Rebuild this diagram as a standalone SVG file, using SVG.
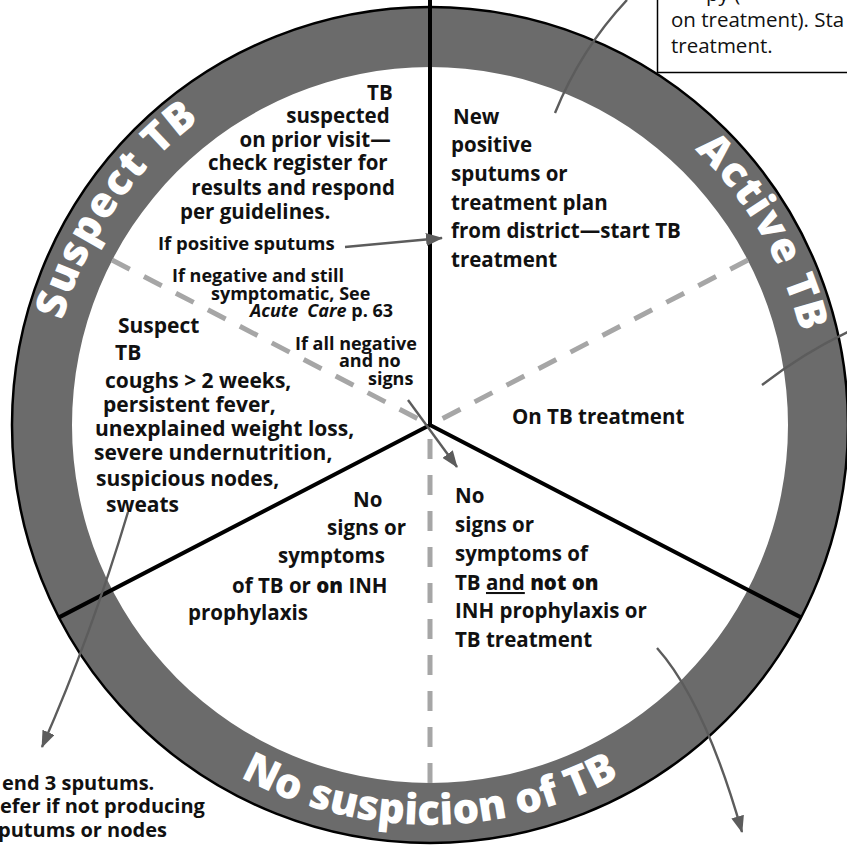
<svg xmlns="http://www.w3.org/2000/svg" width="847" height="847" viewBox="0 0 847 847">
  <defs>
    <style>
      text { font-family: "Open Sans", "Noto Sans", "DejaVu Sans", sans-serif; font-weight: 700; fill: #111; }
      .s18 { font-size: 18px; }
      .s185 { font-size: 18.5px; }
      .s20 { font-size: 20px; }
      .s205 { font-size: 20.5px; }
      .s21 { font-size: 21px; }
      .reg { font-weight: 400; }
      .heavy { font-weight: 800; }
      .ital { font-style: italic; }
      .ring-label { font-size: 42px; font-weight: 800; fill: #fff; letter-spacing: 1.5px; }
      .ring-label-low { font-size: 42px; font-weight: 800; fill: #fff; letter-spacing: 0px; }
      .band { fill: #6b6b6b; fill-rule: evenodd; }
      .rim { fill: none; stroke: #000; stroke-width: 2.5; }
      .divider { fill: none; stroke: #000; stroke-width: 4; }
      .dash { fill: none; stroke: #a6a6a6; stroke-width: 5; stroke-dasharray: 20 16; }
      .conn { fill: none; stroke: #5c5c5c; stroke-width: 2.4; }
      .arrow { marker-end: url(#head); }
      .note { fill: #fff; stroke: #000; stroke-width: 1.5; }
    </style>
    <marker id="head" viewBox="0 0 17 13" refX="16" refY="6.5" markerWidth="17" markerHeight="13" markerUnits="userSpaceOnUse" orient="auto">
      <path d="M0,0 L17,6.5 L0,13 Z" fill="#5c5c5c"/>
    </marker>
    <!-- baselines for the curved band titles -->
    <path id="arc-suspect" d="M54.4,494.6 A382,382 0 0 1 360.4,49.4"/>
    <path id="arc-active" d="M528.9,56 A382,382 0 0 1 799,523.9"/>
    <path id="arc-none" d="M147.2,707.8 A400,400 0 0 0 712.8,707.8"/>
  </defs>

  <rect width="847" height="847" fill="#fff"/>

  <!-- outer band and sector dividers -->
  <g id="wheel">
    <path class="band" d="M12,425 A418,418 0 1 0 848,425 A418,418 0 1 0 12,425 Z M72,425 A358,358 0 1 0 788,425 A358,358 0 1 0 72,425 Z"/>
    <path class="dash" d="M112,260 L430,425 M748,260 L430,425 M430,783 L430,425"/>
    <path class="divider" d="M430,425 V0 M430,425 L801,617.4 M430,425 L59,617.4"/>
    <circle class="rim" cx="430" cy="425" r="418"/>
  </g>

  <g id="band-titles">
    <text class="ring-label"><textPath href="#arc-suspect" startOffset="50%" text-anchor="middle">Suspect TB</textPath></text>
    <text class="ring-label"><textPath href="#arc-active" startOffset="50%" text-anchor="middle">Active TB</textPath></text>
    <text class="ring-label-low"><textPath href="#arc-none" startOffset="50%" text-anchor="middle">No suspicion of TB</textPath></text>
  </g>

  <g id="prior-visit">
    <text class="s205" text-anchor="end">
      <tspan x="398" y="100">TB</tspan>
      <tspan x="395" y="123">suspected</tspan>
      <tspan x="396" y="147">on prior visit—</tspan>
      <tspan x="393" y="170">check register for</tspan>
      <tspan x="395" y="195">results and respond</tspan>
    </text>
    <text class="s205" x="180" y="219">per guidelines.</text>
  </g>

  <g id="start-treatment">
    <text class="s205">
      <tspan x="453" y="124">New</tspan>
      <tspan x="451" y="152">positive</tspan>
      <tspan x="451" y="181">sputums or</tspan>
      <tspan x="451" y="210">treatment plan</tspan>
      <tspan x="451" y="238">from district—start TB</tspan>
      <tspan x="451" y="267">treatment</tspan>
    </text>
  </g>

  <g id="if-positive">
    <text class="s185" x="158" y="250">If positive sputums</text>
  </g>

  <g id="if-negative">
    <text class="s18">
      <tspan x="172" y="282">If negative and still</tspan>
      <tspan x="211" y="300">symptomatic, See</tspan>
      <tspan x="250" y="317" class="ital">Acute</tspan><tspan dx="9" class="ital">Care</tspan><tspan> p. 63</tspan>
    </text>
  </g>

  <g id="if-all-negative">
    <text class="s18">
      <tspan x="295" y="350">If all negative</tspan>
      <tspan x="339" y="367">and no</tspan>
      <tspan x="368" y="385">signs</tspan>
    </text>
  </g>

  <g id="suspect-tb">
    <text class="s21">
      <tspan x="118" y="333">Suspect</tspan>
      <tspan x="115" y="360">TB</tspan>
      <tspan x="105" y="388">coughs &gt; 2 weeks,</tspan>
      <tspan x="103" y="412">persistent fever,</tspan>
      <tspan x="95" y="436">unexplained weight loss,</tspan>
      <tspan x="94" y="460">severe undernutrition,</tspan>
      <tspan x="96" y="486">suspicious nodes,</tspan>
      <tspan x="106" y="512">sweats</tspan>
    </text>
  </g>

  <g id="no-signs-on-inh">
    <text class="s205">
      <tspan x="353" y="507">No</tspan>
      <tspan x="327" y="535">signs or</tspan>
      <tspan x="278" y="563">symptoms</tspan>
      <tspan x="232" y="593">of TB or </tspan><tspan class="heavy">on</tspan><tspan> INH</tspan>
      <tspan x="188" y="620">prophylaxis</tspan>
    </text>
  </g>

  <g id="no-signs-not-on-inh">
    <text class="s205">
      <tspan x="455" y="503">No</tspan>
      <tspan x="455" y="532">signs or</tspan>
      <tspan x="455" y="561">symptoms of</tspan>
      <tspan x="455" y="590">TB </tspan><tspan style="text-decoration:underline">and</tspan><tspan class="heavy"> not on</tspan>
      <tspan x="455" y="618">INH prophylaxis or</tspan>
      <tspan x="455" y="647">TB treatment</tspan>
    </text>
  </g>

  <g id="on-treatment">
    <text class="s205" x="512" y="424">On TB treatment</text>
  </g>

  <g id="therapy-note">
    <rect class="note" x="657.5" y="-5" width="200" height="77.5"/>
    <text class="s205 reg">
      <tspan x="706" y="1">py (</tspan>
      <tspan x="671" y="27">on treatment). Sta</tspan>
      <tspan x="671" y="53">treatment.</tspan>
    </text>
  </g>

  <g id="sputum-note">
    <text class="s20">
      <tspan x="2" y="790">end 3 sputums.</tspan>
      <tspan x="0" y="813">efer if not producing</tspan>
      <tspan x="-2" y="837">putums or nodes</tspan>
    </text>
  </g>

  <g id="connectors">
    <path class="conn arrow" d="M345,247 L442,238"/>
    <path class="conn arrow" d="M408,400 L457,467"/>
    <path class="conn arrow" d="M657,648 Q705,702 742,832"/>
    <path class="conn arrow" d="M128,512 Q91,636 42,747"/>
    <path class="conn" d="M627,0 Q581,49 555,113"/>
    <path class="conn" d="M850,331 Q805,352 762,385"/>
  </g>
</svg>
